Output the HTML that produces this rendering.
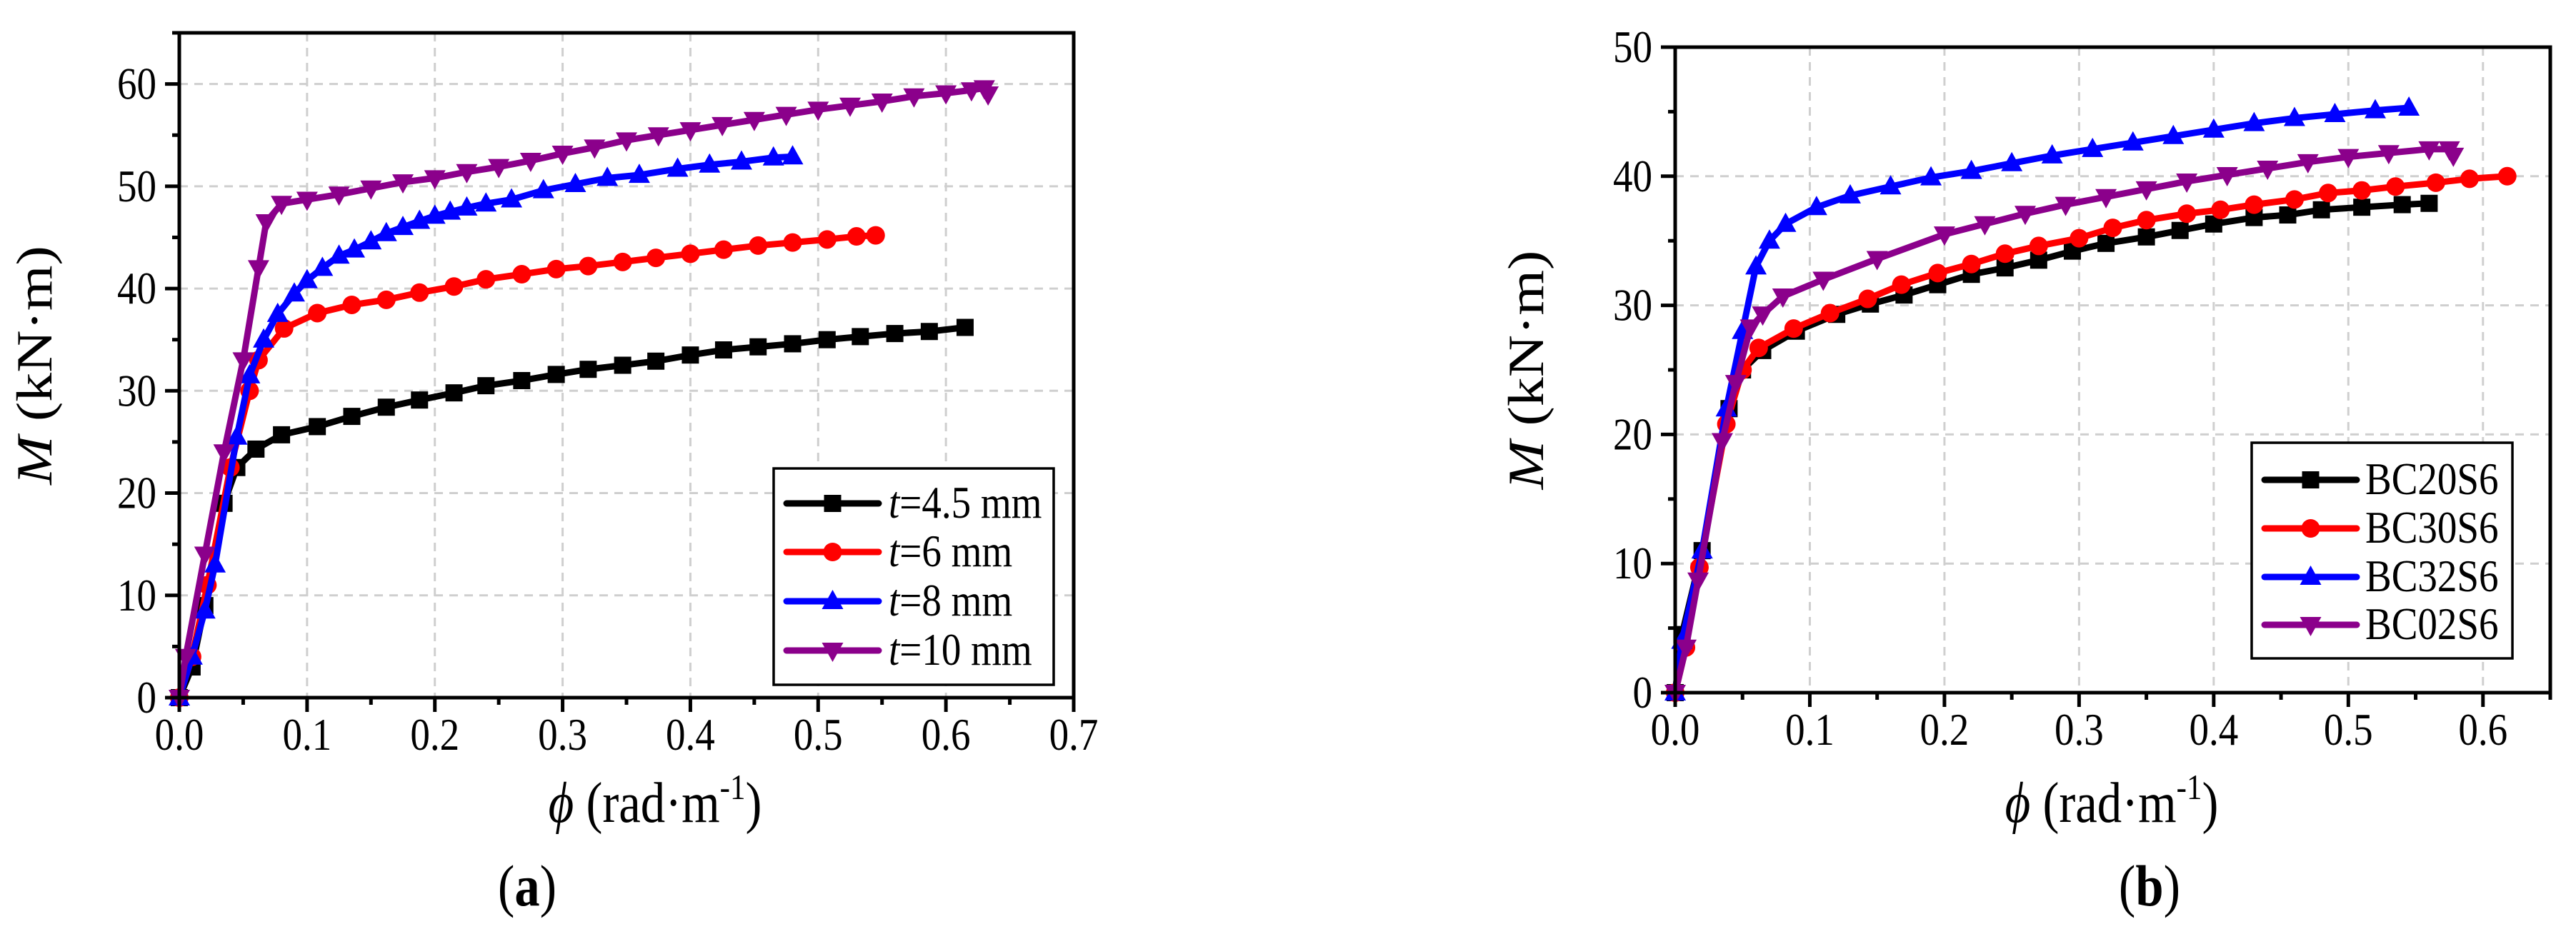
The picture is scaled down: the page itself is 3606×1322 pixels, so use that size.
<!DOCTYPE html>
<html><head><meta charset="utf-8"><style>
html,body{margin:0;padding:0;background:#fff}
svg{display:block}
text{font-family:"Liberation Serif","Times New Roman",serif;fill:#000}
</style></head><body>
<svg id="fig" width="3606" height="1322" viewBox="0 0 3606 1322" xmlns="http://www.w3.org/2000/svg"></svg>
<script>
// ---- Panel (a) data ----
const aNames = ["t=4.5 mm","t=6 mm","t=8 mm","t=10 mm"];
const aBlackX = [0,0.01,0.02,0.035,0.045,0.06,0.08,0.108,0.135,0.162,0.188,0.215,0.24,0.268,0.295,0.32,0.347,0.373,0.4,0.426,0.453,0.48,0.507,0.533,0.56,0.587,0.615];
const aBlackY = [0,3,9,19,22.5,24.3,25.7,26.5,27.5,28.4,29.1,29.8,30.5,31,31.6,32.1,32.5,32.9,33.5,34,34.3,34.6,35,35.3,35.6,35.8,36.2];
const aRedX = [0,0.01,0.022,0.04,0.055,0.062,0.082,0.108,0.135,0.162,0.188,0.215,0.24,0.268,0.295,0.32,0.347,0.373,0.4,0.426,0.453,0.48,0.507,0.53,0.545];
const aRedY = [0,4,11,22.5,30,33,36.1,37.6,38.4,38.9,39.6,40.2,40.9,41.4,41.9,42.2,42.6,43,43.4,43.8,44.2,44.5,44.8,45.1,45.2];
const aBlueX = [0,0.01,0.02,0.028,0.045,0.055,0.066,0.077,0.09,0.1,0.112,0.125,0.137,0.15,0.162,0.175,0.188,0.2,0.212,0.225,0.24,0.26,0.285,0.31,0.335,0.36,0.39,0.415,0.44,0.465,0.48];
const aBlueY = [0,4,8.5,13,25.5,31.5,35,37.5,39.5,40.8,42,43.2,43.8,44.6,45.4,46,46.6,47.1,47.5,47.9,48.3,48.7,49.6,50.2,50.8,51.1,51.7,52.1,52.4,52.8,52.9];
const aPurpleX = [0,0.005,0.02,0.035,0.05,0.062,0.068,0.08,0.1,0.125,0.15,0.175,0.2,0.225,0.25,0.275,0.3,0.325,0.35,0.375,0.4,0.425,0.45,0.475,0.5,0.525,0.55,0.575,0.6,0.62,0.63,0.633];
const aPurpleY = [0,4,14,24,33,42,46.5,48.3,48.7,49.2,49.8,50.4,50.8,51.4,51.9,52.5,53.2,53.8,54.5,55,55.5,56,56.5,57,57.5,57.9,58.3,58.8,59.1,59.4,59.6,59];
const aXTicks = ["0.0","0.1","0.2","0.3","0.4","0.5","0.6","0.7"];
const aYTicks = ["0","10","20","30","40","50","60"];
// ---- Panel (b) data ----
const bNames = ["BC20S6","BC30S6","BC32S6","BC02S6"];
const bBlackX = [0,0.005,0.02,0.04,0.05,0.065,0.09,0.12,0.145,0.17,0.195,0.22,0.245,0.27,0.295,0.32,0.35,0.375,0.4,0.43,0.455,0.48,0.51,0.54,0.56];
const bBlackY = [0,4.5,11,22,25,26.5,28,29.3,30.1,30.8,31.6,32.4,32.9,33.5,34.2,34.8,35.3,35.8,36.3,36.8,37,37.4,37.6,37.8,37.9];
const bRedX = [0,0.008,0.018,0.038,0.05,0.062,0.088,0.115,0.143,0.168,0.195,0.22,0.245,0.27,0.3,0.325,0.35,0.38,0.405,0.43,0.46,0.485,0.51,0.535,0.565,0.59,0.618];
const bRedY = [0,3.5,9.7,20.8,25,26.7,28.2,29.4,30.5,31.6,32.5,33.2,34,34.6,35.2,36,36.6,37.1,37.4,37.8,38.2,38.7,38.9,39.2,39.5,39.8,40];
const bBlueX = [0,0.005,0.02,0.038,0.05,0.06,0.07,0.082,0.105,0.13,0.16,0.19,0.22,0.25,0.28,0.31,0.34,0.37,0.4,0.43,0.46,0.49,0.52,0.545];
const bBlueY = [0,4,11,22,28,33,35,36.3,37.6,38.5,39.2,39.9,40.4,41,41.6,42.1,42.6,43.1,43.6,44.1,44.5,44.8,45.1,45.3];
const bPurpleX = [0,0.008,0.017,0.035,0.045,0.056,0.065,0.08,0.11,0.15,0.2,0.23,0.26,0.29,0.32,0.35,0.38,0.41,0.44,0.47,0.5,0.53,0.56,0.575,0.578];
const bPurpleY = [0,3.5,8.7,19.5,24,28.3,29.3,30.7,32,33.6,35.5,36.3,37.1,37.8,38.4,39,39.6,40.1,40.6,41.1,41.5,41.8,42.1,42.1,41.6];
const bXTicks = ["0.0","0.1","0.2","0.3","0.4","0.5","0.6"];
const bYTicks = ["0","10","20","30","40","50"];

const NS = "http://www.w3.org/2000/svg";
const svg = document.getElementById("fig");
const SX = 0.86;
function mk(tag, attrs, parent){
  const e = document.createElementNS(NS, tag);
  for (const k in attrs) e.setAttribute(k, attrs[k]);
  (parent||svg).appendChild(e);
  return e;
}
function txt(parent, x, y, fs, anchor, extra){
  const attrs = Object.assign({x:0,y:0,"font-size":fs,"text-anchor":anchor,transform:`translate(${x} ${y}) scale(${SX} 1)`}, extra||{});
  return mk("text", attrs, parent);
}
const COLORS = ["#000000","#ff0000","#0000ff","#8b008b"];
const SHAPES = ["square","circle","up","down"];

function marker(g, shape, x, y, color){
  let e;
  if (shape === "square") e = mk("rect",{x:x-12,y:y-12,width:24,height:24,fill:color},g);
  else if (shape === "circle") e = mk("circle",{cx:x,cy:y,r:13,fill:color},g);
  else if (shape === "up") e = mk("polygon",{points:`${x},${y-16} ${x-15},${y+11} ${x+15},${y+11}`,fill:color},g);
  else e = mk("polygon",{points:`${x},${y+16} ${x-15},${y-11} ${x+15},${y-11}`,fill:color},g);
  
  
}

function panel(cfg){
  const {id, L, R, T, B, xMax, yMax, xStep, yStep, xTicks, yTicks, series, names, legend, fs, label, xTitleX, yTitleX, labelX} = cfg;
  const sx = v => L + v / xMax * (R - L);
  const sy = v => B - v / yMax * (B - T);
  const g = mk("g",{});
  
  
  const grid = mk("g",{stroke:"#cfcfcf","stroke-width":3,"stroke-dasharray":"12,9"},g);
  
  
  xTicks.forEach((t,i)=>{ const x = sx(i*xStep); if (i>0 && x < R-3) mk("line",{x1:x,x2:x,y1:T,y2:B},grid); });
  yTicks.forEach((t,i)=>{ const y = sy(i*yStep); if (i>0 && y > T+3) mk("line",{x1:L,x2:R,y1:y,y2:y},grid); });
  series.forEach((s,si)=>{
    const sg = mk("g",{},g);
    
    
    const pts = s[0].map((x,i)=> sx(x)+","+sy(s[1][i])).join(" ");
    const pl = mk("polyline",{points:pts,fill:"none",stroke:COLORS[si],"stroke-width":9,"stroke-linejoin":"round","stroke-linecap":"round"},sg);
    
    
    s[0].forEach((x,i)=> marker(sg, SHAPES[si], sx(x), sy(s[1][i]), COLORS[si]));
  });
  const ax = mk("g",{stroke:"#000","stroke-width":5,fill:"none"},g);
  
  
  mk("rect",{x:L,y:T,width:R-L,height:B-T},ax);
  const nx = Math.round(xMax/(xStep/2));
  for (let i=0;i<=nx;i++){ const x = sx(i*xStep/2); mk("line",{x1:x,x2:x,y1:B,y2:B+(i%2?10:20)},ax); }
  const ny = Math.round(yMax/(yStep/2));
  for (let i=0;i<=ny;i++){ const y = sy(i*yStep/2); mk("line",{x1:L,x2:L-(i%2?10:20),y1:y,y2:y},ax); }
  xTicks.forEach((t,i)=>{
    const e = txt(g, sx(i*xStep), B+73, fs, "middle"); e.textContent=t;
    
    
  });
  yTicks.forEach((t,i)=>{
    const e = txt(g, L-32, sy(i*yStep)+21, fs, "end"); e.textContent=t;
    
    
  });
  const xt = txt(g, xTitleX, 1151, 80, "middle");
  xt.innerHTML = '<tspan font-style="italic">ϕ</tspan> (rad·m<tspan dy="-32" font-size="50">-1</tspan><tspan dy="32">)</tspan>';
  
  
  const yc = (T+B)/2;
  const yt = mk("text",{x:0,y:0,"font-size":82,"text-anchor":"middle",transform:`translate(${yTitleX} ${yc}) rotate(-90) scale(1 ${SX})`},g);
  yt.innerHTML = '<tspan font-style="italic">M</tspan> (kN·m)';
  
  
  const pl = txt(g, labelX, 1268, 82, "middle");
  pl.innerHTML = '(<tspan font-weight="bold">'+label+'</tspan>)';
  
  
  const lg = mk("g",{},g);
  
  
  mk("rect",{x:legend.x,y:legend.y,width:legend.w,height:legend.h,fill:"#fff",stroke:"#000","stroke-width":3.5},lg);
  names.forEach((n,i)=>{
    const ey = legend.rows[i];
    const eg = mk("g",{},lg);
    
    
    mk("line",{x1:legend.l1,x2:legend.l2,y1:ey,y2:ey,stroke:COLORS[i],"stroke-width":9,"stroke-linecap":"round"},eg);
    marker(eg, SHAPES[i], (legend.l1+legend.l2)/2, ey, COLORS[i]);
    const t = txt(eg, legend.tx, ey+20, legend.fs, "start");
    if (n.startsWith("t=")) t.innerHTML = '<tspan font-style="italic">t</tspan>' + n.slice(1);
    else t.textContent = n;
  });
}

panel({id:"panel-a", L:251, R:1503, T:46, B:977, xMax:0.7, yMax:65, xStep:0.1, yStep:10,
  xTicks:aXTicks, yTicks:aYTicks,
  series:[[aBlackX,aBlackY],[aRedX,aRedY],[aBlueX,aBlueY],[aPurpleX,aPurpleY]],
  names:aNames, fs:64, label:"a", xTitleX:917, yTitleX:72, labelX:738,
  legend:{x:1083,y:656,w:392,h:303,rows:[705,773,842,911],l1:1101,l2:1230,tx:1244,fs:64}});
panel({id:"panel-b", L:2345, R:3570, T:66, B:970, xMax:0.65, yMax:50, xStep:0.1, yStep:10,
  xTicks:bXTicks, yTicks:bYTicks,
  series:[[bBlackX,bBlackY],[bRedX,bRedY],[bBlueX,bBlueY],[bPurpleX,bPurpleY]],
  names:bNames, fs:64, label:"b", xTitleX:2956, yTitleX:2160, labelX:3009,
  legend:{x:3152,y:620,w:365,h:302,rows:[672,740,808,875],l1:3170,l2:3299,tx:3311,fs:64}});
</script>
</body></html>
